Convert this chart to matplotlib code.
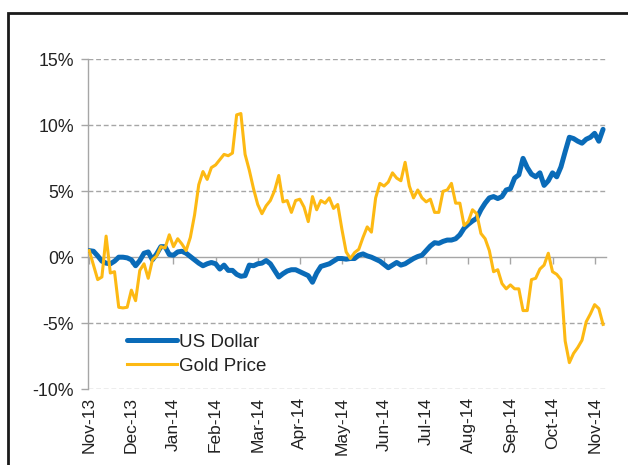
import numpy as np
import matplotlib
matplotlib.use("Agg")
import matplotlib.pyplot as plt
from matplotlib.patches import Rectangle

# ---- data (percent change, sampled every 0.1 month from Nov-13) ----
month_labels = ["Nov-13", "Dec-13", "Jan-14", "Feb-14", "Mar-14", "Apr-14", "May-14",
                "Jun-14", "Jul-14", "Aug-14", "Sep-14", "Oct-14", "Nov-14"]

usd = [0.5, 0.45, 0.1, -0.3, -0.45, -0.5, -0.3, 0.0, 0.0, -0.05,
       -0.2, -0.65, -0.25, 0.3, 0.4, -0.2, 0.25, 0.8, 0.8, 0.2,
       0.15, 0.4, 0.45, 0.3, 0.05, -0.2, -0.45, -0.65, -0.5, -0.4,
       -0.5, -0.9, -0.6, -1.0, -1.0, -1.3, -1.45, -1.4, -0.6, -0.65,
       -0.5, -0.45, -0.25, -0.5, -1.0, -1.5, -1.25, -1.05, -0.95, -0.95,
       -1.1, -1.25, -1.4, -1.9, -1.2, -0.7, -0.6, -0.5, -0.3, -0.1,
       -0.1, -0.15, -0.1, -0.1, 0.15, 0.25, 0.1, 0.0, -0.15, -0.3,
       -0.55, -0.8, -0.6, -0.4, -0.6, -0.5, -0.3, -0.1, 0.05, 0.15,
       0.5, 0.85, 1.1, 1.05, 1.2, 1.3, 1.3, 1.4, 1.7, 2.2,
       2.5, 2.75, 2.95, 3.6, 4.1, 4.5, 4.6, 4.45, 4.6, 5.1,
       5.2, 6.0, 6.25, 7.5, 6.8, 6.3, 6.1, 6.4, 5.45, 5.8,
       6.4, 6.1, 6.85, 8.0, 9.1, 9.0, 8.8, 8.65, 8.95, 9.1,
       9.4, 8.8, 9.7]

gold = [0.5, -0.6, -1.7, -1.5, 1.6, -1.2, -1.1, -3.8, -3.85, -3.8,
        -2.5, -3.3, -1.0, -0.5, -1.6, -0.2, 0.1, 0.8, 0.7, 1.7,
        0.8, 1.4, 1.0, 0.5, 1.5, 3.2, 5.5, 6.5, 5.9, 6.8,
        7.0, 7.4, 7.8, 7.7, 7.9, 10.8, 10.9, 7.8, 6.6, 5.2,
        4.0, 3.3, 3.9, 4.3, 5.05, 6.2, 4.2, 4.3, 3.4, 4.3,
        4.4, 3.8, 2.7, 4.6, 3.6, 4.3, 4.1, 4.5, 3.7, 4.0,
        2.1, 0.4, -0.1, 0.35, 0.6, 1.5, 2.3, 1.9, 4.5, 5.6,
        5.4, 5.7, 6.4, 6.0, 5.8, 7.2, 5.4, 4.5, 5.1, 4.5,
        4.2, 4.4, 3.4, 3.4, 5.0, 5.1, 5.6, 4.1, 4.1, 2.4,
        2.7, 3.6, 3.3, 1.8, 1.4, 0.5, -1.1, -0.95, -2.0, -2.4,
        -2.1, -2.4, -2.4, -4.05, -4.05, -1.7, -1.6, -0.9, -0.6, 0.3,
        -1.1, -1.3, -1.7, -6.35, -8.0, -7.3, -6.85, -6.3, -4.9, -4.3,
        -3.6, -3.9, -5.1]

period = np.arange(len(usd)) * 0.1   # months since start of Nov-13

# ---- styling ----
plt.rcParams['font.family'] = ['Liberation Sans', 'DejaVu Sans']
BLUE = '#0A6BB8'
GOLD = '#FDB913'
GRAY = '#A6A6A6'
TXT = '#222222'

fig = plt.figure(figsize=(6.28, 4.65), dpi=100)
ax = fig.add_axes([88/628, 1-389/465, 518/628, (389-59.5)/465])

ax.plot(period, usd, color=BLUE, lw=3.6, solid_capstyle='round', solid_joinstyle='round',
        label='US Dollar', zorder=3)
ax.plot(period, gold, color=GOLD, lw=2.2, solid_joinstyle='round', label='Gold Price', zorder=4)

ax.set_ylim(-10, 15)
ax.set_xlim(-0.03, 12.27)
yt = [-10, -5, 0, 5, 10, 15]
ax.set_yticks(yt)
ax.set_yticklabels([f"{v}%" for v in yt])
for v in yt:
    if v != 0:
        ax.axhline(v, color=GRAY, lw=1.0, ls=(0, (3.5, 2)), zorder=1)

for s in ['top', 'right']:
    ax.spines[s].set_visible(False)
ax.spines['left'].set_color(GRAY)
ax.spines['left'].set_linewidth(1.0)
ax.spines['bottom'].set_position(('data', 0))
ax.spines['bottom'].set_color(GRAY)
ax.spines['bottom'].set_linewidth(1.0)
ax.spines['bottom'].set_zorder(2)

ax.set_xticks(range(len(month_labels)))
ax.tick_params(axis='x', direction='out', length=5, width=1, color=GRAY, labelbottom=False)
ax.tick_params(axis='y', direction='out', length=5, width=1, color=GRAY, labelsize=12.8,
               labelcolor=TXT, pad=5)

sec = ax.secondary_xaxis(0.0)
sec.set_xticks(range(len(month_labels)))
sec.set_xticklabels(month_labels, rotation=90, fontsize=12.5, color=TXT)
sec.tick_params(length=0, pad=6)
sec.spines['bottom'].set_visible(False)

leg = ax.legend(loc='upper left', bbox_to_anchor=(0.06, 0.19), frameon=False,
                fontsize=13.5, handlelength=2.7, handletextpad=0.12, labelspacing=0.35,
                borderaxespad=0)
for t in leg.get_texts():
    t.set_color(TXT)

fig.patches.append(Rectangle((8/628, -0.1), 1.2, 1.1 - 13/465, transform=fig.transFigure,
                             fill=False, edgecolor='#1a1a1a', lw=2.0))

fig.savefig('out.png', dpi=100)
